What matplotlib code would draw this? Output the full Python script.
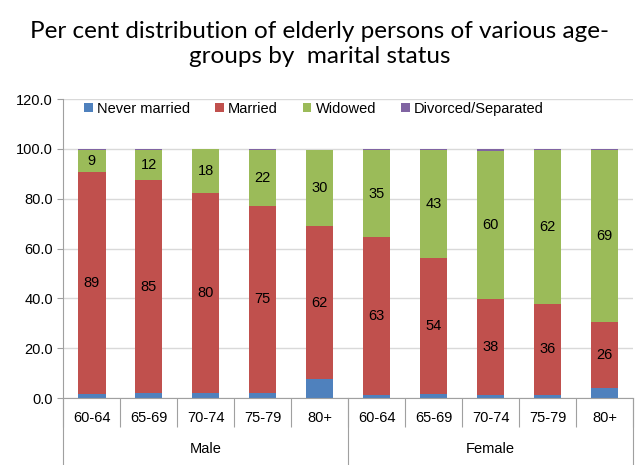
import matplotlib.pyplot as plt
import numpy as np

groups = ['Male', 'Female']
ages = ['60-64', '65-69', '70-74', '75-79', '80+']
categories = ages + ages

never_married = [1.8, 2.0, 2.0, 2.0, 7.5, 1.2, 1.8, 1.3, 1.3, 4.2]
married = [89.0, 85.4, 80.3, 75.2, 61.6, 63.4, 54.4, 38.4, 36.4, 26.3]
widowed = [8.9, 12.0, 17.6, 22.4, 30.4, 34.8, 43.2, 59.6, 61.9, 69.2]
divorced = [0.3, 0.4, 0.1, 0.4, 0.2, 0.6, 0.6, 0.5, 0.4, 0.3]

series = [('Never married', never_married, '#4F81BD'),
          ('Married', married, '#C0504D'),
          ('Widowed', widowed, '#9BBB59'),
          ('Divorced/Separated', divorced, '#8064A2')]

plt.rcParams['font.family'] = ['Liberation Sans', 'DejaVu Sans']

fig = plt.figure(figsize=(6.4, 4.65), dpi=100)
ax = fig.add_axes([0.099, 0.144, 0.890, 0.643])

x = np.arange(len(categories))
bottom = np.zeros(len(categories))
for name, vals, col in series:
    vals = np.array(vals)
    ax.bar(x, vals, 0.48, bottom=bottom, color=col, label=name, zorder=2)
    if name in ('Married', 'Widowed'):
        for xi, b, v in zip(x, bottom, vals):
            ax.text(xi, b + v / 2, f'{v:.0f}', ha='center', va='center',
                    fontsize=10.5, zorder=3)
    bottom += vals

ax.set_xlim(-0.5, len(categories) - 0.5)
ax.set_ylim(0, 120)
ax.set_yticks(np.arange(0, 121, 20))
ax.set_yticklabels([f'{v:.1f}' for v in np.arange(0, 121, 20)], fontsize=10.5)
ax.yaxis.grid(True, color='#D9D9D9', linewidth=1, zorder=0)
ax.tick_params(axis='y', length=4, color='#A0A0A0')

# category labels and separators
ax.set_xticks(np.arange(-0.5, len(categories), 1))
ax.set_xticklabels([])
ax.tick_params(axis='x', length=21, color='#A0A0A0')
ax.set_xticks(x, minor=True)
ax.set_xticklabels(categories, minor=True, fontsize=10.5)
ax.tick_params(axis='x', which='minor', length=0, pad=9)

for sp in ['top', 'right']:
    ax.spines[sp].set_visible(False)
for sp in ['left', 'bottom']:
    ax.spines[sp].set_color('#A0A0A0')

# group labels
trans = ax.get_xaxis_transform()
for xb in [-0.5, 4.5, 9.5]:
    ax.plot([xb, xb], [0, -0.23], transform=trans, color='#A0A0A0',
            linewidth=0.8, clip_on=False)
for i, g in enumerate(groups):
    ax.text(2 + 5 * i, -0.17, g, transform=trans, ha='center', va='center',
            fontsize=10.5)

ax.legend(loc='upper center', bbox_to_anchor=(0.44, 1.035), ncol=4, frameon=False,
          fontsize=10.5, handlelength=0.6, handleheight=0.6, handletextpad=0.3,
          columnspacing=1.7)

fig.text(0.5, 0.905, 'Per cent distribution of elderly persons of various age-\ngroups by  marital status',
         ha='center', va='center', fontsize=17.5, family=['Lato', 'DejaVu Sans'],
         linespacing=1.2)

fig.savefig('out.png')
